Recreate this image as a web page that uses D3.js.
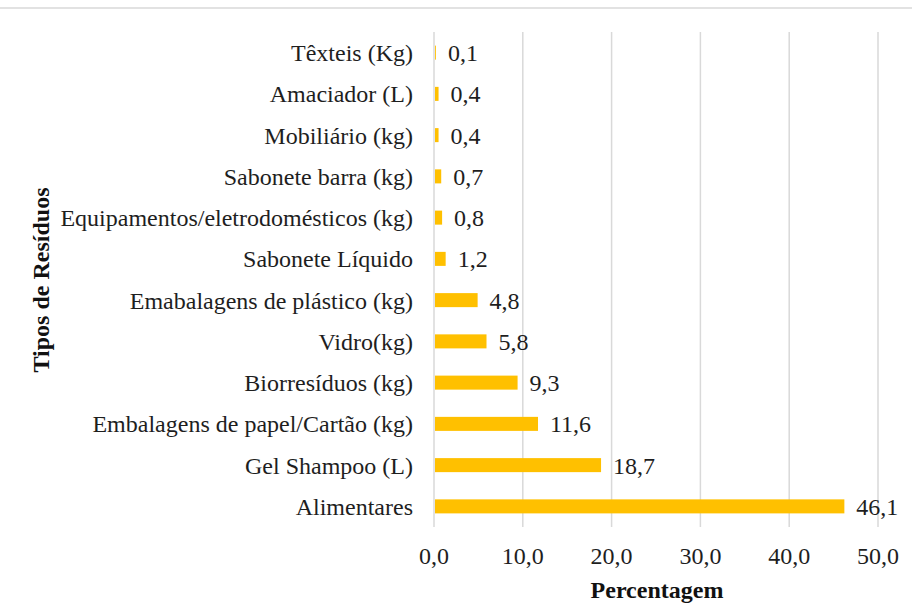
<!DOCTYPE html>
<html>
<head>
<meta charset="utf-8">
<script src="https://cdn.jsdelivr.net/npm/d3@7.9.0/dist/d3.min.js"></script>
<style>
  body { margin: 0; background: #fff; }
  svg { display: block; font-family: "Liberation Serif", "Times New Roman", serif; }
</style>
</head>
<body>
<svg width="912" height="603"></svg>
<script>
// categories, top to bottom
const categories = [
  'Têxteis (Kg)', 'Amaciador (L)', 'Mobiliário (kg)', 'Sabonete barra (kg)',
  'Equipamentos/eletrodomésticos (kg)', 'Sabonete Líquido', 'Emabalagens de plástico (kg)',
  'Vidro(kg)', 'Biorresíduos (kg)', 'Embalagens de papel/Cartão (kg)', 'Gel Shampoo (L)', 'Alimentares'
];
const values = [0.1, 0.4, 0.4, 0.7, 0.8, 1.2, 4.8, 5.8, 9.3, 11.6, 18.7, 46.1];
const ticks = [0, 10, 20, 30, 40, 50];

const fmt = v => v.toFixed(1).replace('.', ',');
const fs = 24;

const svg = d3.select('svg');

// thin rule at the very top
svg.append('line')
  .attr('x1', 0).attr('x2', 912).attr('y1', 8).attr('y2', 8)
  .attr('stroke', '#e2e2e2').attr('stroke-width', 2);

let x = d3.scaleLinear().domain([0, 50]).range([434, 878]);
let y = d3.scaleBand().domain(categories).range([32, 527]).paddingInner(0.66).paddingOuter(0.33);

// gridlines
svg.append('g')
  .selectAll('line')
  .data(ticks)
  .join('line')
  .attr('x1', d => x(d)).attr('x2', d => x(d))
  .attr('y1', 32).attr('y2', 527)
  .attr('stroke', '#d9d9d9').attr('stroke-width', 1.5);

// tick labels
svg.append('g')
  .selectAll('text')
  .data(ticks)
  .join('text')
  .attr('x', d => x(d)).attr('y', 564)
  .attr('text-anchor', 'middle')
  .attr('font-size', fs)
  .attr('fill', '#1e1e1e')
  .text(fmt);

// bars
svg.append('g')
  .selectAll('rect')
  .data(values)
  .join('rect')
  .attr('x', x(0) + 1)
  .attr('y', (d, i) => y(categories[i]))
  .attr('width', d => x(d) - x(0))
  .attr('height', y.bandwidth())
  .attr('fill', '#ffc000');

// value labels
svg.append('g')
  .selectAll('text')
  .data(values)
  .join('text')
  .attr('x', d => x(d) + 13)
  .attr('y', (d, i) => y(categories[i]) + y.bandwidth() / 2)
  .attr('dy', '0.35em')
  .attr('font-size', fs)
  .attr('fill', '#1e1e1e')
  .text(fmt);

// category labels
svg.append('g')
  .selectAll('text')
  .data(categories)
  .join('text')
  .attr('x', 413)
  .attr('y', d => y(d) + y.bandwidth() / 2)
  .attr('dy', '0.35em')
  .attr('text-anchor', 'end')
  .attr('font-size', fs)
  .attr('fill', '#1e1e1e')
  .text(d => d);

// axis titles
svg.append('text')
  .attr('x', 657).attr('y', 598)
  .attr('text-anchor', 'middle')
  .attr('font-size', fs).attr('font-weight', 'bold')
  .attr('fill', '#111')
  .text('Percentagem');

svg.append('text')
  .attr('transform', 'translate(49,280) rotate(-90)')
  .attr('text-anchor', 'middle')
  .attr('font-size', fs).attr('font-weight', 'bold')
  .attr('fill', '#111')
  .text('Tipos de Resíduos');
</script>
</body>
</html>
